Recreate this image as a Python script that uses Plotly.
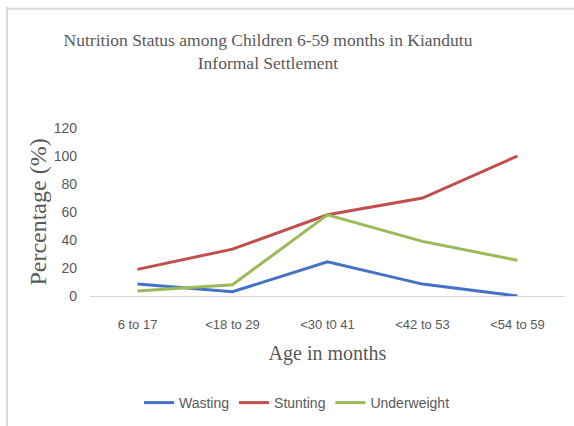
import plotly.graph_objects as go

age_groups = ["6 to 17", "<18 to 29", "<30 t0 41", "<42 to 53", "<54 to 59"]
wasting = [8.5, 3, 24.5, 8.5, 0]
stunting = [19, 33.5, 58, 70, 100]
underweight = [3.5, 8, 58, 39, 25.5]
y_ticks = [0, 20, 40, 60, 80, 100, 120]

W, H = 574, 426
ml, mr, mt, mb = 90, 9, 128, 129

sans = "Liberation Sans Narrow, Arial Narrow, Liberation Sans, sans-serif"
serif = "Liberation Serif, Times New Roman, serif"
grey = "#595959"

fig = go.Figure()
for name, vals, col in [("Wasting", wasting, "#4472C4"),
                        ("Stunting", stunting, "#C0504D"),
                        ("Underweight", underweight, "#9BBB59")]:
    fig.add_trace(go.Scatter(x=age_groups, y=vals, mode="lines", name=name,
                             line=dict(color=col, width=3)))

pw = W - ml - mr
ph = H - mt - mb
def px_x(x):
    return (x - ml) / pw
def px_y(y):
    return (H - mb - y) / ph

fig.update_layout(
    width=W, height=H,
    margin=dict(l=ml, r=mr, t=mt, b=mb),
    paper_bgcolor="white", plot_bgcolor="white",
    title=dict(text="Nutrition Status among Children 6-59 months in Kiandutu<br>Informal Settlement",
               xref="paper", x=px_x(268), xanchor="center",
               yref="container", y=1 - 46 / H, yanchor="middle",
               font=dict(family=serif, size=17.5, color=grey)),
    xaxis=dict(type="category", range=[-0.5, 4.5], showgrid=False, zeroline=False,
               showline=True, linecolor="#d9d9d9", linewidth=1, ticks="",
               ticklabelstandoff=16,
               tickfont=dict(family=sans, size=13, color=grey),
               title=dict(text="Age in months", standoff=15,
                          font=dict(family=serif, size=20, color=grey))),
    yaxis=dict(range=[0, 120], tickvals=y_ticks, showgrid=False, zeroline=False,
               showline=False, ticks="", ticklabelstandoff=12,
               tickfont=dict(family=sans, size=14, color=grey),
               title=dict(text="Percentage (%)", standoff=0,
                          font=dict(family=serif, size=24, color=grey))),
    legend=dict(orientation="h", x=px_x(297), xanchor="center", y=px_y(403),
                yanchor="middle",
                font=dict(family=sans, size=14, color=grey), itemwidth=30),
    shapes=[
        dict(type="line", xref="paper", yref="paper", x0=px_x(7), x1=px_x(7),
             y0=px_y(6), y1=px_y(H + 2), line=dict(color="#d9d9d9", width=2)),
        dict(type="line", xref="paper", yref="paper", x0=px_x(6), x1=px_x(W + 2),
             y0=px_y(8), y1=px_y(8), line=dict(color="#d9d9d9", width=2)),
    ],
)

fig.write_html("out.html", config={"displayModeBar": False},
               post_script="document.body.style.margin='0';document.body.style.overflow='hidden';")
